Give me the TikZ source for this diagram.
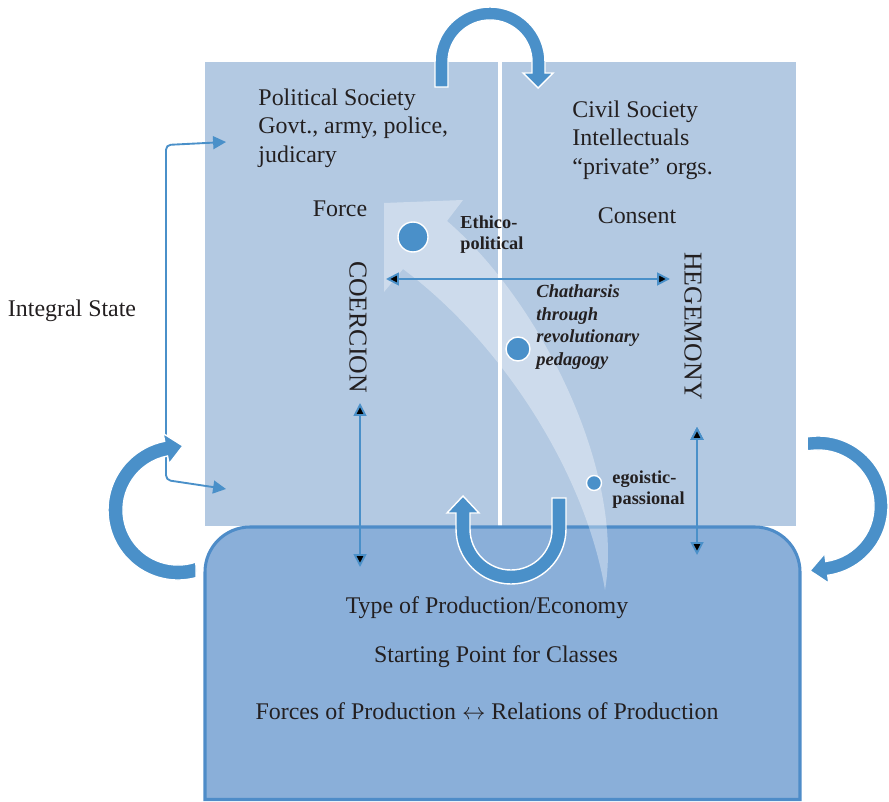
\documentclass[tikz,border=0pt]{standalone}
\usepackage{fontspec}
\setmainfont{Liberation Serif}
\usetikzlibrary{calc,arrows.meta,positioning}

\definecolor{statefill}{HTML}{B3C9E2}
\definecolor{basefill}{HTML}{8AAFD9}
\definecolor{baseedge}{HTML}{4E8CC8}
\definecolor{flow}{HTML}{4A90C9}
\definecolor{ink}{HTML}{231F20}

\tikzset{
  txt/.style={text=ink, inner sep=0pt, font=\fontsize{10.2}{12.2}\selectfont},
  txtblock/.style={txt, align=left, anchor=west},
  axisname/.style={txt, rotate=-90, font=\fontsize{11}{13}\selectfont},
  tag/.style={text=ink, inner sep=0pt, align=left, anchor=west, font=\fontsize{7.8}{9}\selectfont\bfseries},
  tagit/.style={tag, font=\fontsize{7.9}{9.6}\selectfont\bfseries\itshape},
  link/.style={draw=flow, line width=0.8pt, {Triangle[length=5.5pt,width=5.5pt]}-{Triangle[length=5.5pt,width=5.5pt]}},
  bigarrow/.style={fill=flow, draw=white, line width=0.6pt},
  spot/.style={circle, fill=flow, draw=white, line width=0.6pt, inner sep=0pt, minimum size=#1}
}

\begin{document}
\begin{tikzpicture}[x=0.15mm, y=0.15mm]
  \useasboundingbox (0,0) rectangle (889,801);

  % state (upper) and base (lower)
  \fill[statefill] (205,275) rectangle (796,739);
  \draw[white, line width=1.3pt] (500,739) -- (500,275);
  \draw[fill=basefill, draw=baseedge, line width=1.3pt]
    (205,1.5) -- (205,229) arc (180:90:45) -- (755,274) arc (90:0:45) -- (800,1.5) -- cycle;

  % rising arrow through the three levels
  \fill[white, opacity=0.35] (384,598) -- (463,601) -- (447,580)
    .. controls (540,500) and (625,330) .. (605,211)
    .. controls (585,330) and (500,460) .. (403,532) -- (384,509) -- cycle;

  \coordinate (hl) at (386,522);
  \coordinate (hr) at (670,522);
  \coordinate (ct) at (360,398);
  \coordinate (cb) at (360,234);
  \coordinate (gt) at (697,374);
  \coordinate (gb) at (697,246);
  \coordinate (ps) at (226,659);
  \coordinate (pb) at (226,312);
  \coordinate (kt) at (166,656);
  \coordinate (kb) at (166,321);

  \path[link]
    (hl) edge (hr)
    (ct) edge (cb)
    (gt) edge (gb);
  \draw[link, rounded corners=2pt] (ps) -- (kt) -- (kb) -- (pb);

  \node[spot=4.5mm] (ethdot) at (413,564) {};
  \node[spot=3.6mm] (catdot) at (518,452) {};
  \node[spot=2.25mm] (egodot) at (594,318) {};

  % circular arrows
  \coordinate (lc) at (178,291);
  \coordinate (rc) at (818,295);
  \filldraw[bigarrow] (435,714) -- (435,739) arc (180:0:55) -- (545,728) -- (553,728)
    -- (538,713) -- (523,728) -- (532,728) -- (532,739) arc (0:180:42) -- (448,714) -- cycle;
  \filldraw[bigarrow] (552,303) -- (566,303) -- (566,272) arc (0:-180:55) -- (456,288)
    -- (447,288) -- (463,305) -- (479,288) -- (470,288) -- (470,272) arc (-180:0:41) -- cycle;
  \filldraw[bigarrow] ($(rc)+(99:70)$) arc (99:-82:70) -- ($(rc)+(-82:78)$)
    -- ($(rc)+(-82:63)+(-172:17)$) -- ($(rc)+(-82:48)$) -- ($(rc)+(-82:56)$)
    arc (-82:101:56) -- cycle;
  \filldraw[bigarrow] ($(lc)+(-75:70)$) arc (-75:-259:70) -- ($(lc)+(101:78)$)
    -- ($(lc)+(101:62)+(11:17)$) -- ($(lc)+(101:47)$) -- ($(lc)+(101:55)$)
    arc (101:289:55) -- cycle;

  % texts
  \node[txtblock] (polsoc) at (258,673) {Political Society\\Govt., army, police,\\judicary};
  \node[txtblock] (civsoc) at (572,661) {Civil Society\\Intellectuals\\“private” orgs.};
  \node[txt] (force) at (340,592) {Force};
  \node[txt] (consent) at (637,585) {Consent};
  \node[tag] (ethico) at (460,566) {Ethico-\\political};
  \node[tagit] (cath) at (536,474) {Chatharsis\\through\\revolutionary\\pedagogy};
  \node[tag] (ego) at (612,311) {egoistic-\\passional};
  \node[axisname] (coerc) at (358,474) {COERCION};
  \node[axisname] (hegem) at (693,475) {HEGEMONY};
  \node[txt] (integ) at (72,490) {Integral State};
  \node[txt] (econ) at (487,193) {Type of Production/Economy};
  \node[txt] (classes) at (496,144) {Starting Point for Classes};
  \node[txt] (forces) at (487,90) {Forces of Production $\leftrightarrow$ Relations of Production};
\end{tikzpicture}
\end{document}
